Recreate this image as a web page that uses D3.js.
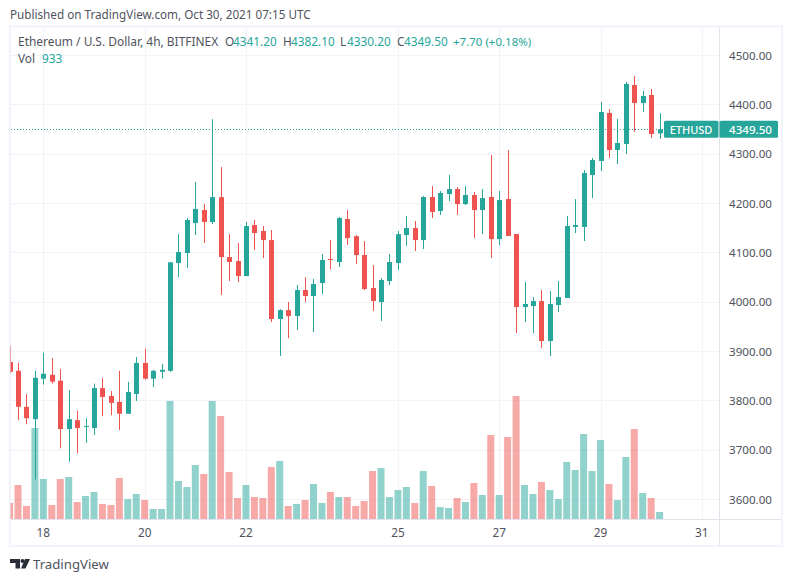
<!DOCTYPE html>
<html>
<head>
<meta charset="utf-8">
<script src="https://cdnjs.cloudflare.com/ajax/libs/d3/7.8.5/d3.min.js"></script>
<style>
html, body { margin: 0; padding: 0; background: #fff; }
svg { display: block; }
text { font-family: "Noto Sans", "Open Sans", sans-serif; }
</style>
</head>
<body>
<svg id="chart" width="793" height="582"></svg>
<script>
// 4h candles, first one is clipped by the left edge of the pane
var opens = [3878,3860,3787,3762,3844,3852,3840,3742,3760,3746,3744,3825,3809,3797,3773,3813,3876,3844,3858,3860,
  4078.5,4098.8,4159.6,4186,4161.6,4212,4090.6,4082.5,4052,4155.5,4143.4,4125,3965,3983,3971,4023.8,4011.6,4038,4086.6,4080.5,
  4167.7,4133,4094.7,4027.8,3999.4,4042,4078.5,4135.2,4149.4,4125,4212.3,4183.9,4218.3,4228.5,4198,4216.3,4185.9,4212.3,4127,4208.2,
  4137.3,3989.3,3991.3,4001.4,3920.4,3993.3,4007.5,4151.5,4151.5,4256.9,4285.3,4382.6,4307.6,4319.7,4439.3,4402.8,4419,4341.2];
var highs = [3911,3876,3813,3860,3897,3886,3864,3821,3779,3764,3834,3846,3819,3860,3838,3888,3905,3862,3874,4080,
  4137,4169.7,4242.7,4198,4370,4273,4137,4119,4161.6,4165.7,4153.5,4145.4,3985,3999.4,4034,4050,4046,4096.7,4125,4171.7,
  4186,4135,4123,4074.4,4048,4096.7,4143.3,4173.7,4163.6,4214.3,4234.6,4224.4,4256.8,4232.5,4234.6,4222.4,4228.5,4297.4,4224.4,4307.5,
  4137.3,4040,4009.5,4023.8,4021.7,4042,4173.7,4208,4267,4291.3,4404.9,4390.7,4370.4,4445.4,4457.6,4427.2,4431.2,4382.1];
var lows = [3855,3760,3752,3640,3832,3834,3703,3676,3693,3714,3730,3768,3770,3740,3773,3799,3842,3827,3844,3858,
  4050,4068.4,4135.3,4119,4157.6,4013.6,4042,4040,4052,4105,4088.6,3959,3890,3926,3942.7,3999,3938.6,4015.7,4066,4070.4,
  4115,4076.5,4024,3981.2,3961,4033.9,4064.3,4113,4102.8,4106.8,4169.7,4175.8,4204.1,4175.8,4196,4129.1,4137.3,4088.6,4115,4133.2,
  3936.6,3958.9,3936.6,3906.2,3890,3979,4007.5,4139.3,4123,4210,4265,4291.3,4279.2,4299.5,4344,4384.6,4331.9,4330.2];
var closes = [3858,3787,3764,3846,3854,3838,3742,3762,3744,3748,3825,3807,3795,3773,3817,3876,3844,3860,3862,4080,
  4100.8,4165.7,4188,4161.6,4212,4090.6,4080.5,4052,4153.5,4139.3,4125,3965,3983,3971,4023.8,4011.6,4036,4084.6,4084.6,4169.7,
  4129,4094.7,4025.8,4001.5,4044,4080.5,4137,4149.4,4125,4212.3,4181.8,4220.4,4228.5,4198,4216.3,4185.9,4210.2,4127,4206.2,4133.2,
  3989.3,3995.4,4001.4,3920.4,3995.4,4009.5,4153.5,4155.5,4261,4287.3,4384.6,4307.6,4321.8,4441.4,4402.8,4417,4340,4349.5];
var volumes = [2133,4532,1733,12130,5332,1866,5332,5598,2266,3066,3599,1999,1866,5465,2666,3332,2533,1333,1333,15729,
  5065,4265,7198,5998,15729,13729,6265,2799,4532,2932,2799,6931,7731,1733,1999,2533,4665,2133,3599,2932,
  2932,1733,2399,6398,6798,2932,3865,4265,2133,6398,4399,1600,1466,2799,2266,4798,3199,11196,3199,10930,
  16395,4532,3332,4932,3865,2666,7598,6531,11330,6398,10530,4665,2533,8264,11996,3466,2799,933];
// first bar of each labelled day
var dayLabels = ['18','20','22','25','27','29','31'];
var dayIndex = [4,16,28,46,58,70,82];
var priceTicks = [3600,3700,3800,3900,4000,4100,4200,4300,4400,4500];
var lastPrice = 4349.50;

var GREEN = '#26a69a', RED = '#ef5350', GRID = '#f2f3f7', BORDER = '#f0f3fa', AXIS = '#e0e3eb';
var paneLeft = 11, paneTop = 27, paneRight = 719, paneBottom = 519, frameRight = 782, frameBottom = 546;

var svg = d3.select('#chart');
var x = d3.scaleLinear().domain([0, 82]).range([9.6, 701.8]);
var y = d3.scaleLinear().domain([3600, 4400]).range([499.1, 104.4]);
// volume bars sit on the time axis
var yVol = d3.scaleLinear().domain([0, 933]).range([paneBottom, paneBottom - 7]);

svg.append('clipPath').attr('id', 'pane').append('rect')
  .attr('x', paneLeft - 1).attr('y', paneTop)
  .attr('width', paneRight - paneLeft + 1).attr('height', paneBottom - paneTop);

svg.append('text').attr('x', 10).attr('y', 19).attr('font-size', 11.7).attr('fill', '#50535e')
  .text('Published on TradingView.com, Oct 30, 2021 07:15 UTC');

// frame
svg.append('rect').attr('x', 10).attr('y', 26.5)
  .attr('width', frameRight - 10).attr('height', frameBottom - 26.5)
  .attr('fill', 'none').attr('stroke', BORDER).attr('stroke-width', 2);

// grid
svg.append('g').selectAll('line').data(priceTicks).join('line')
  .attr('x1', paneLeft).attr('x2', paneRight)
  .attr('y1', function(d) { return Math.round(y(d)) + 0.5; })
  .attr('y2', function(d) { return Math.round(y(d)) + 0.5; })
  .attr('stroke', GRID);
svg.append('g').selectAll('line').data(dayIndex).join('line')
  .attr('x1', function(d) { return Math.round(x(d)) + 0.5; })
  .attr('x2', function(d) { return Math.round(x(d)) + 0.5; })
  .attr('y1', paneTop).attr('y2', paneBottom)
  .attr('stroke', GRID);

var marks = svg.append('g').attr('clip-path', 'url(#pane)');

// volume
marks.append('g').selectAll('rect').data(volumes).join('rect')
  .attr('x', function(d, i) { return x(i) - 3.5; })
  .attr('width', 7)
  .attr('y', function(d) { return yVol(d); })
  .attr('height', function(d) { return paneBottom - yVol(d); })
  .attr('fill', function(d, i) { return closes[i] >= opens[i] ? GREEN : RED; })
  .attr('fill-opacity', 0.5);

// last price line
marks.append('line').attr('x1', paneLeft).attr('x2', paneRight)
  .attr('y1', Math.round(y(lastPrice)) + 0.5).attr('y2', Math.round(y(lastPrice)) + 0.5)
  .attr('stroke', GREEN).attr('stroke-dasharray', '1 2');

// candles
var candles = marks.append('g').selectAll('g').data(opens).join('g')
  .attr('fill', function(d, i) { return closes[i] >= d ? GREEN : RED; })
  .attr('stroke', 'none');
candles.append('rect')
  .attr('x', function(d, i) { return Math.round(x(i)); })
  .attr('width', 1)
  .attr('y', function(d, i) { return y(highs[i]); })
  .attr('height', function(d, i) { return y(lows[i]) - y(highs[i]); });
candles.append('rect')
  .attr('x', function(d, i) { return Math.round(x(i)) - 2; })
  .attr('width', 5)
  .attr('y', function(d, i) { return y(Math.max(d, closes[i])); })
  .attr('height', function(d, i) { return Math.max(1, Math.abs(y(d) - y(closes[i]))); });

// the frame fades whatever is under its inner pixel
svg.append('line').attr('x1', 10.5).attr('x2', 10.5).attr('y1', paneTop).attr('y2', paneBottom)
  .attr('stroke', BORDER).attr('stroke-opacity', 0.5);

// axis lines
svg.append('line').attr('x1', paneLeft).attr('x2', frameRight - 1)
  .attr('y1', paneBottom + 0.5).attr('y2', paneBottom + 0.5).attr('stroke', AXIS);
svg.append('line').attr('x1', paneRight + 0.5).attr('x2', paneRight + 0.5)
  .attr('y1', paneTop).attr('y2', frameBottom - 1).attr('stroke', AXIS);

// price axis
svg.append('g').selectAll('text').data(priceTicks).join('text')
  .attr('x', 729).attr('y', function(d) { return y(d) + 4.5; })
  .attr('font-size', 11.6).attr('fill', '#50535e')
  .text(function(d) { return d3.format('.2f')(d); });

// time axis
svg.append('g').selectAll('text').data(dayLabels).join('text')
  .attr('x', function(d, i) { return x(dayIndex[i]); })
  .attr('y', 537).attr('text-anchor', 'middle')
  .attr('font-size', 11.8).attr('fill', '#50535e')
  .text(function(d) { return d; });

// last price labels
var labelY = y(lastPrice);
svg.append('rect').attr('x', 664).attr('y', labelY - 8.5).attr('width', 54.5).attr('height', 17)
  .attr('rx', 1.5).attr('fill', GREEN);
svg.append('rect').attr('x', 719.5).attr('y', labelY - 8.5).attr('width', 58.5).attr('height', 17)
  .attr('rx', 1.5).attr('fill', GREEN);
svg.append('text').attr('x', 691).attr('y', labelY + 4.5).attr('text-anchor', 'middle')
  .attr('font-size', 11).attr('font-weight', 500).attr('fill', '#fff').text('ETHUSD');
svg.append('text').attr('x', 729).attr('y', labelY + 4.5)
  .attr('font-size', 11.6).attr('font-weight', 500).attr('fill', '#fff').text('4349.50');

// legend, header values come from the last candle
var n = opens.length - 1;
var fmt = d3.format('.2f');
function legend(px, py, str, color, size) {
  svg.append('text').attr('x', px).attr('y', py).attr('font-size', size || 11.8).attr('fill', color).text(str);
}
legend(18, 46, 'Ethereum / U.S. Dollar, 4h, BITFINEX', '#50535e', 11.95);
legend(225, 46, 'O', '#50535e');
legend(233, 46, fmt(opens[n]), GREEN);
legend(283, 46, 'H', '#50535e');
legend(291, 46, fmt(highs[n]), GREEN);
legend(340, 46, 'L', '#50535e');
legend(347, 46, fmt(lows[n]), GREEN);
legend(397, 46, 'C', '#50535e');
legend(404, 46, fmt(closes[n]), GREEN);
legend(453, 46, '+7.70 (+0.18%)', GREEN, 11.5);
legend(18, 63, 'Vol', '#50535e');
legend(42, 63, String(volumes[n]), GREEN);

// logo
var logo = svg.append('g').attr('fill', '#2a2e39').attr('transform', 'translate(10,559)');
logo.append('path').attr('d', 'M0 0H10V9.5H5.5V4H0Z');
logo.append('circle').attr('cx', 12.5).attr('cy', 2).attr('r', 2);
logo.append('path').attr('d', 'M15 0H20L15.5 9.5H11Z');
svg.append('text').attr('x', 33).attr('y', 569).attr('font-size', 13.2).attr('fill', '#50535e').text('TradingView');
</script>
</body>
</html>
